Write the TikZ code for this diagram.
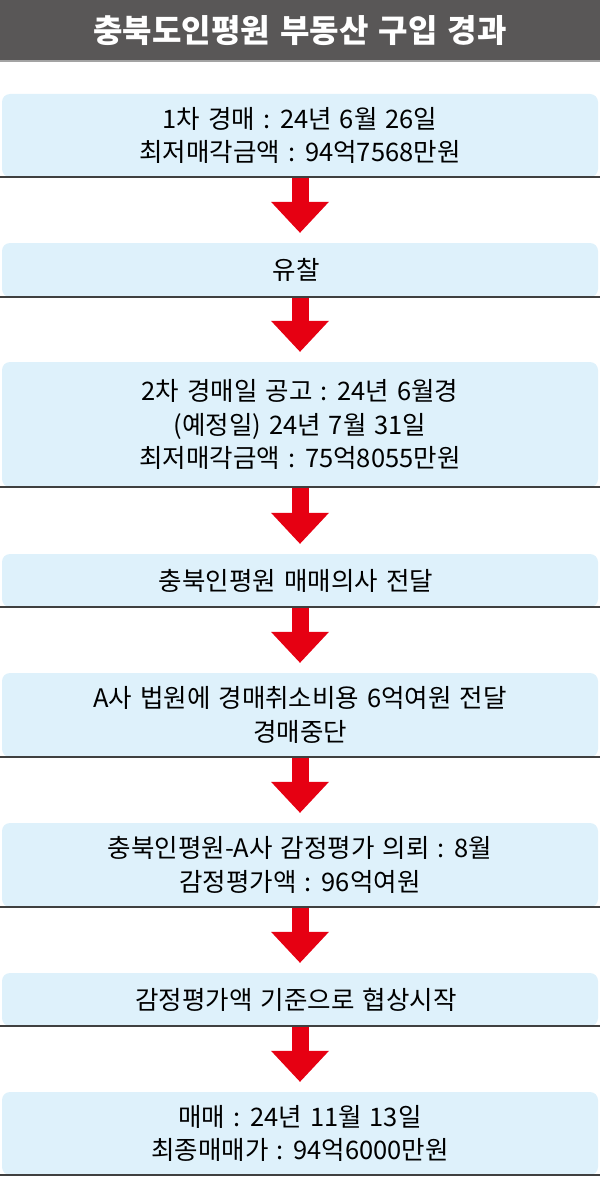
\documentclass[tikz,border=0pt]{standalone}
\usepackage{fontspec}
\setmainfont{Noto Sans CJK KR}[WordSpace=1.4]
\usetikzlibrary{arrows.meta}
\definecolor{headgray}{HTML}{595757}
\definecolor{headline}{HTML}{A3A3A3}
\definecolor{boxblue}{HTML}{DEF1FB}
\definecolor{arrowred}{HTML}{E60012}
\definecolor{rulegray}{HTML}{404040}
\begin{document}
\begin{tikzpicture}[x=1pt, y=-1pt,
    stage/.style={fill=boxblue, rounded corners=8pt, minimum width=596pt,
        inner sep=0pt, align=center, text=black,
        font=\fontsize{25.5}{33.5}\selectfont},
    flow/.style={arrowred, line width=17pt, shorten >=10pt,
        -{Triangle[width=58pt, length=31pt, line width=0pt]}},
    rule/.style={rulegray, line width=2pt, shorten <=-2pt, shorten >=-2pt}
]
    \useasboundingbox (0, 0) rectangle (600, 1177);
    % header
    \fill[headgray] (0, 0) rectangle (600, 60);
    \draw[headline, line width=2pt] (0, 61) -- (600, 61);
    \node[text=white, font=\fontsize{32}{32}\selectfont\bfseries] (title) at (300, 31) {
        충북도인평원 부동산 구입 경과
    };
    % stages
    \node[stage, minimum height=83pt] (s1) at (300, 135.5) {
        1차 경매 : 24년 6월 26일\\
        최저매각금액 : 94억7568만원
    };
    \node[stage, minimum height=54pt] (s2) at (300, 270) {
        유찰
    };
    \node[stage, minimum height=125pt] (s3) at (300, 424.5) {
        2차 경매일 공고 : 24년 6월경\\
        (예정일) 24년 7월 31일\\
        최저매각금액 : 75억8055만원
    };
    \node[stage, minimum height=53pt] (s4) at (300, 580.5) {
        충북인평원 매매의사 전달
    };
    \node[stage, minimum height=84pt] (s5) at (300, 715) {
        A사 법원에 경매취소비용 6억여원 전달\\
        경매중단
    };
    \node[stage, minimum height=84pt] (s6) at (300, 865) {
        충북인평원-A사 감정평가 의뢰 : 8월\\
        감정평가액 : 96억여원
    };
    \node[stage, minimum height=53pt] (s7) at (300, 999.5) {
        감정평가액 기준으로 협상시작
    };
    \node[stage, minimum height=83pt] (s8) at (300, 1133.5) {
        매매 : 24년 11월 13일\\
        최종매매가 : 94억6000만원
    };
    % arrows and bottom rules
    \foreach \a/\b in {s1/s2, s2/s3, s3/s4, s4/s5, s5/s6, s6/s7, s7/s8}
        \draw[flow] (\a.south) -- (\b.north);
    \foreach \a in {s1, s2, s3, s4, s5, s6, s7, s8}
        \draw[rule] (\a.south west) -- (\a.south east);
\end{tikzpicture}
\end{document}
